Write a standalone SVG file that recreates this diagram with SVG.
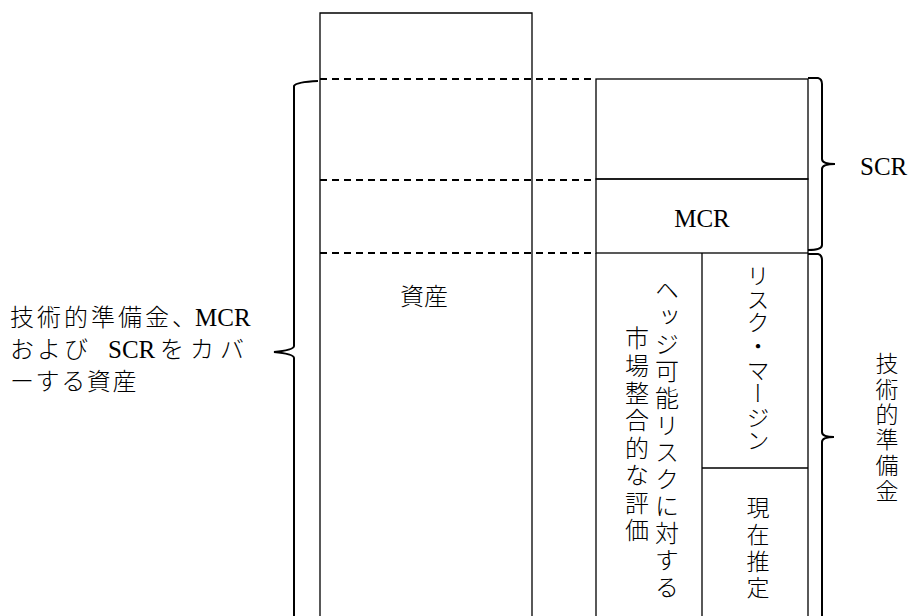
<svg xmlns="http://www.w3.org/2000/svg" width="911" height="616" viewBox="0 0 911 616">
<style>
.ln{fill:none;stroke:#000;stroke-width:1.3}
.br{fill:none;stroke:#000;stroke-width:2}
.dash{fill:none;stroke:#000;stroke-width:2;stroke-dasharray:7,5}
.t{font-family:"Noto Sans CJK JP",sans-serif;font-size:24px;font-weight:300;fill:#000}
.lat{font-family:"Liberation Serif","Times New Roman",serif;font-size:25px;fill:#000;letter-spacing:0}
.v{font-family:"Noto Sans CJK JP",sans-serif;font-size:23px;font-weight:300;fill:#000;writing-mode:vertical-rl}
</style>
<rect width="911" height="616" fill="#fff"/>
<g id="assets">
<path class="ln" d="M320,640 V13 H532 V640"/>
<text class="t" x="400" y="305">資産</text>
</g>
<g id="scr-box">
<rect class="ln" x="596" y="79" width="212" height="100"/>
</g>
<g id="mcr-box">
<rect class="ln" x="596" y="179" width="212" height="74"/>
<text class="lat" x="702" y="227" text-anchor="middle">MCR</text>
</g>
<g id="market-value">
<path class="ln" d="M596,253 V640 M702,253 V640"/>
<text class="v" x="667" y="278" style="font-size:24px;letter-spacing:3px">ヘッジ可能リスクに対する</text>
<text class="v" x="637" y="326" style="font-size:24px;letter-spacing:3.4px">市場整合的な評価</text>
</g>
<g id="risk-margin">
<path class="ln" d="M808,253 V640 M702,468 H808"/>
<text class="v" x="758" y="264" style="letter-spacing:0.6px">リスク・マージン</text>
</g>
<g id="best-estimate">
<text class="v" x="758" y="496" style="letter-spacing:3.7px">現在推定</text>
</g>
<g id="connectors">
<path class="dash" d="M320,79 H596 M320,180 H596 M320,253 H596"/>
<path class="br" d="M318,81 Q296,82 294,86 V346 Q294,350 274,352 Q294,354 294,358 V640"/>
<path class="br" d="M808,78 H818 Q822,79 822,84 V159 Q822,164 835,164 Q822,164 822,169 V245 Q822,250 808,250"/>
<path class="br" d="M808,254 H818 Q822,255 822,260 V432 Q822,437 834,437 Q822,437 822,442 V640"/>
</g>
<g id="labels">
<text class="t" x="10" y="326" style="letter-spacing:3px">技術的準備金、</text>
<text class="lat" x="195" y="326">MCR</text>
<text class="t" x="10" y="358" style="letter-spacing:3px">および</text>
<text class="lat" x="108" y="358">SCR</text>
<text class="t" x="160" y="358" style="letter-spacing:6px">をカバ</text>
<text class="t" x="10" y="390" style="letter-spacing:1.6px">ーする資産</text>
<text class="lat" x="860" y="175">SCR</text>
<text class="v" x="887" y="352" style="letter-spacing:2.4px">技術的準備金</text>
</g>
</svg>
